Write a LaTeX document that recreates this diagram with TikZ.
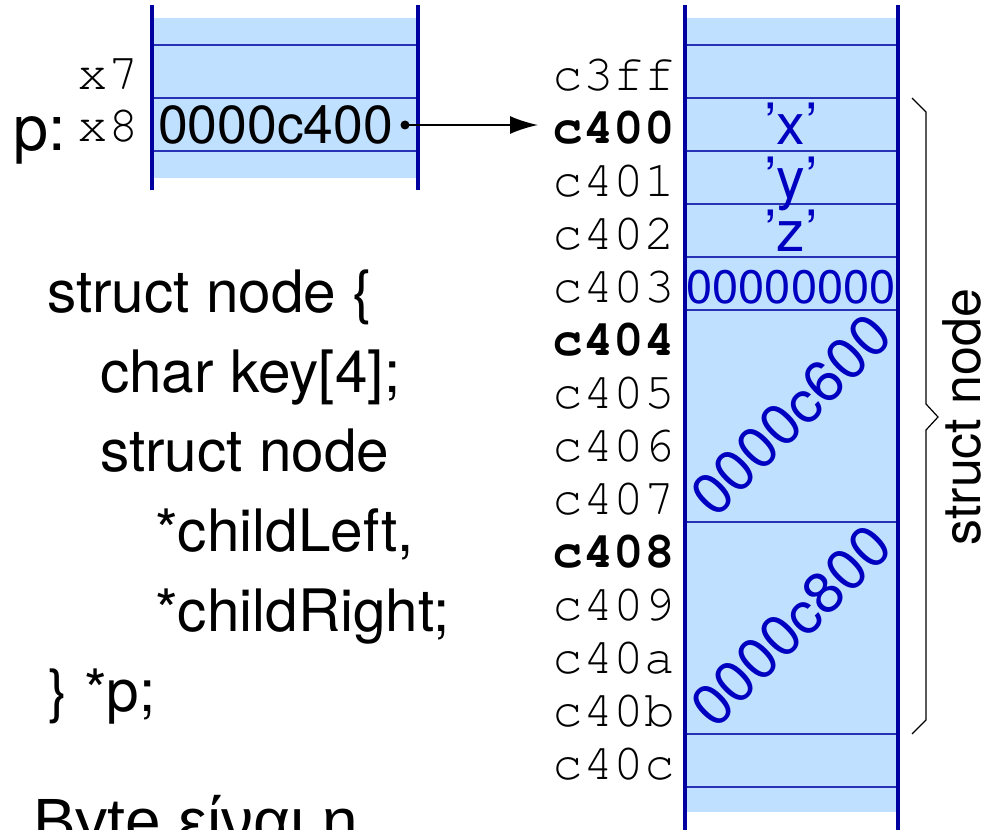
\documentclass[tikz,border=0pt]{standalone}
\usepackage[T1,TU]{fontenc}
\usepackage{fontspec}
\setmainfont{TeX Gyre Heros}
\newfontfamily\grkfont{Liberation Sans}
\newcommand\courm{\fontencoding{T1}\fontfamily{pcr}\fontseries{m}\fontshape{n}\selectfont}
\newcommand\courb{\fontencoding{T1}\fontfamily{pcr}\fontseries{b}\fontshape{n}\selectfont}
\usetikzlibrary{arrows.meta}
\definecolor{memblue}{RGB}{0,0,160}
\definecolor{fillblue}{RGB}{192,224,255}
\definecolor{lineblue}{RGB}{40,50,180}
\definecolor{valblue}{RGB}{0,0,192}
\tikzset{
  memv/.style={draw=memblue, line width=4pt},
  memh/.style={draw=lineblue, line width=1.3pt},
  addr/.style={anchor=base east, inner sep=0pt, font=\courm\fontsize{51}{51}\selectfont},
  addrb/.style={anchor=base east, inner sep=0pt, font=\courb\fontsize{51}{51}\selectfont},
  val/.style={text=valblue, inner sep=0pt, font=\fontsize{57}{57}\selectfont},
  code/.style={anchor=base west, inner sep=0pt, font=\fontsize{58.5}{58.5}\selectfont},
}
\begin{document}
\begin{tikzpicture}[x=1pt,y=-1pt]
\useasboundingbox (0,0) rectangle (992,829);
\clip (0,0) rectangle (992,829);
% left memory block
\fill[fillblue] (152,18) rectangle (418,178);
\foreach \yy in {45,98,151} \draw[memh] (152,\yy) -- (418,\yy);
\draw[memv] (152,5) -- (152,190);
\draw[memv] (418,5) -- (418,190);
\node[addr] (x7) at (139,90) {x7};
\node[addr] (x8) at (139,142) {x8};
\node[anchor=base west, inner sep=0pt, font=\fontsize{63}{63}\selectfont] (plabel) at (13,151) {p:};
\node[anchor=base west, inner sep=0pt, font=\fontsize{53.5}{53.5}\selectfont] (pval) at (158,144) {0000c400};
% right memory block
\fill[fillblue] (685,18) rectangle (898,812);
\foreach \yy in {45,98,151,204,257,310,522,734,787} \draw[memh] (685,\yy) -- (898,\yy);
\draw[memv] (685,5) -- (685,835);
\draw[memv] (898,5) -- (898,835);
% addresses
\foreach \lab/\i in {c3ff/0,c401/2,c402/3,c403/4,c405/6,c406/7,c407/8,c409/10,c40a/11,c40b/12,c40c/13}
  \node[addr] (a\lab) at (675,71.5+53*\i+19) {\lab};
\foreach \lab/\i in {c400/1,c404/5,c408/9}
  \node[addrb] (a\lab) at (675,71.5+53*\i+19) {\lab};
% values
\node[val, anchor=base] (vx) at (791,145) {’x’};
\node[val, anchor=base] (vy) at (791,198) {’y’};
\node[val, anchor=base] (vz) at (791,251) {’z’};
\node[val, anchor=base, font=\fontsize{47}{47}\selectfont] (vnull) at (791,303) {00000000};
\node[val, rotate=45, font=\fontsize{58}{58}\selectfont] (vleft) at (791,415) {0000c600};
\node[val, rotate=45, font=\fontsize{58}{58}\selectfont] (vright) at (791,626) {0000c800};
% pointer arrow
\node[circle, fill=black, inner sep=0pt, minimum size=9pt] (pdot) at (405,125) {};
\coordinate (ptgt) at (538,125);
\draw[line width=2pt, -{Latex[length=28pt,width=18pt]}] (pdot.center) -- (ptgt);
% brace
\draw[line width=1.2pt] (912,98) -- (926,112) -- (926,404) -- (938,417) -- (926,430) -- (926,720) -- (912,734);
\node[rotate=90, anchor=base, inner sep=0pt, font=\fontsize{52}{52}\selectfont] (sn) at (980,417) {struct node};
% code
\node[code] (l1) at (47,312) {struct node \{};
\node[code] (l2) at (100,392) {char key[4];};
\node[code] (l3) at (100,471) {struct node};
\node[code] (l4) at (155,551) {*childLeft,};
\node[code] (l5) at (155,631) {*childRight;};
\node[code] (l6) at (48,711) {\} *p;};
\node[code, font=\grkfont\fontsize{64}{64}\selectfont] (bottom) at (33,843) {Byte είναι η};
\end{tikzpicture}
\end{document}
